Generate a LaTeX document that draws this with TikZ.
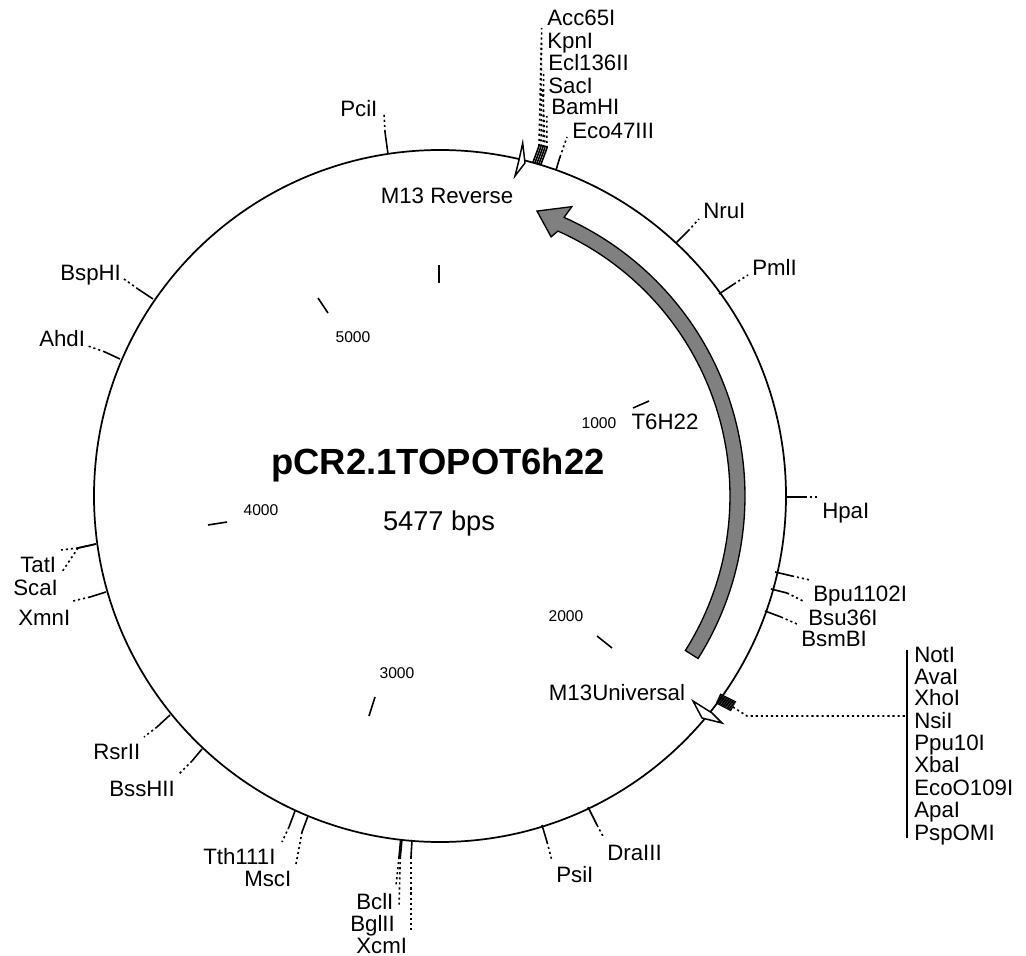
\documentclass[tikz,border=0pt]{standalone}
\usepackage{fontspec}
\setmainfont{Liberation Sans}
\tikzset{
  x=.75pt,y=-.75pt,
  solidline/.style={line width=1.2pt,black},
  dotline/.style={line width=1.2pt,black,dash pattern=on 1.6pt off 2.2pt},
  lab/.style={inner sep=0pt,font=\fontsize{16.7pt}{18pt}\selectfont,anchor=west,text height=12pt,text depth=0pt},
  num/.style={inner sep=0pt,font=\fontsize{11.7pt}{13pt}\selectfont},
  kite/.style={draw=black,fill=white,line width=1.1pt,line join=miter},
}
\newcommand{\site}[6]{%
  \coordinate (b#1) at (#3);\coordinate (m#1) at (#4);\coordinate (e#1) at (#5);
  \node[lab] (l#1) at (#6) {#2};
  \draw[solidline] (b#1) -- (m#1);
  \draw[dotline] (m#1) -- (e#1);}
\newcommand{\rul}[3]{%
  \coordinate (ra#1) at (#2);\coordinate (rb#1) at (#3);
  \draw[solidline] (ra#1) -- (rb#1);}
\begin{document}
\begin{tikzpicture}
\useasboundingbox (0,0) rectangle (1026,956);
\coordinate (c) at (440,496);
\draw[line width=1.3pt] (c) circle[radius=346];
% feature arrow
\begin{scope}[shift={(440,496)}]
\filldraw[draw=black,fill=black!50,line width=1pt,line join=miter]
  plot[domain=32.2:-66,samples=80] (\x:305) -- (-65.5:318) -- (-71.2:301) -- (-66.8:282) -- (-66:290)
  -- plot[domain=-66:32.2,samples=80] (\x:290) -- cycle;
\end{scope}
% sites
\site{pci}{PciI}{388,154}{385,132}{384,113}{340,109}
\site{acc}{Acc65I}{532.7,163}{539,146}{541.7,28}{547,18}
\site{kpn}{KpnI}{534.7,163.5}{541,146.5}{541.5,43}{547,41}
\site{ecl}{Ecl136II}{536.7,164}{543,147}{543.7,71}{548,63}
\site{sac}{SacI}{538.7,164.5}{545,147.5}{542.7,87}{548,86}
\site{bam}{BamHI}{540.7,165}{547,148}{546.7,116}{551,107}
\site{eco}{Eco47III}{556,170}{560,157}{567,137}{572,130}
\site{nru}{NruI}{676,243}{688,231}{699,219}{703,211}
\site{pml}{PmlI}{719,294}{734,284}{748,275}{752,267}
\site{hpa}{HpaI}{786,497}{805,497}{820,497}{822,510}
\site{bpu}{Bpu1102I}{775,572}{792,576}{810,580}{813,593}
\site{bsu}{Bsu36I}{771,589}{787,593}{805,602}{808,617}
\site{bsm}{BsmBI}{765,611}{781,617}{797,624}{801,638}
\site{psi}{PsiI}{542,825}{547,842}{552,861}{556,874}
\site{dra}{DraIII}{588,807}{597,825}{604,838}{607,852}
\site{bcl}{BclI}{400.7,839.3}{399,857}{396,886}{356,901}
\site{bgl}{BglII}{402,839.3}{400.3,857}{399,907}{350,923}
\site{xcm}{XcmI}{412,840}{411,857}{411,930}{356,945}
\site{msc}{MscI}{308,816}{302,832}{296,864}{244,878}
\site{tth}{Tth111I}{295,811}{289,827}{282,842}{203,856}
\site{bss}{BssHII}{202,749}{192,761}{179,774}{109,788}
\site{rsr}{RsrII}{170,715}{157,727}{144,737}{93,751}
\site{xmn}{XmnI}{106,592}{90,597}{73,601}{18,617}
\site{tat}{TatI}{96,544}{78,548}{61,550}{20,564}
\site{sca}{ScaI}{96,544}{78,548}{62,572}{13,587}
\site{ahd}{AhdI}{120,359}{105,352}{88,346}{39,338}
\site{bsp}{BspHI}{153,299}{138,289}{124,279}{60,272}
% kites
\filldraw[kite] (522.7,143) -- (525,163) -- (515,176) -- (519,160) -- cycle;
\filldraw[kite] (693,701) -- (712,713) -- (722,723) -- (702,718) -- cycle;
% multi site
\foreach \i in {0,...,8}{
  \draw[line width=.9pt] ({720-.5*\i},{694+1.1*\i}) -- ({736-.6*\i},{702+1.1*\i});
}
\coordinate (mm) at (733,707);\coordinate (mk) at (747,716);\coordinate (mj) at (907,716);
\draw[dotline] (mm) -- (mk) -- (mj);
\coordinate (bt) at (907,650);\coordinate (bb) at (907,838);
\draw[line width=1.2pt] (bt) -- (bb);
\foreach \n/\y/\t in {a/654/NotI,b/676/AvaI,c/697/XhoI,d/720/NsiI,e/742/Ppu10I,f/764/XbaI,g/787/EcoO109I,h/809/ApaI,i/832/PspOMI}{
  \node[lab] (p\n) at (914,\y) {\t};
}
% ruler
\rul{a}{633,408}{649,401}
\rul{b}{597,636}{612,648}
\rul{c}{369,716}{375,697}
\rul{d}{208,525}{227,522}
\rul{e}{318,298}{328,313}
\rul{f}{439,265}{439,283}
\node[num] (n1) at (599,423) {1000};
\node[num] (n2) at (566,616) {2000};
\node[num] (n3) at (397,673) {3000};
\node[num] (n4) at (261,510) {4000};
\node[num] (n5) at (353,337) {5000};
\node[lab,anchor=center] (t6) at (665,421) {T6H22};
\node[lab,anchor=center] (m13r) at (447,196) {M13 Reverse};
\node[lab,anchor=center] (m13u) at (617,692) {M13Universal};
\node[inner sep=0pt,font=\fontsize{27.3pt}{30pt}\selectfont\bfseries] (title) at (438,465) {pCR2.1TOPOT6h22};
\node[inner sep=0pt,font=\fontsize{20.4pt}{24pt}\selectfont] (bps) at (439,523) {5477 bps};
\end{tikzpicture}
\end{document}
